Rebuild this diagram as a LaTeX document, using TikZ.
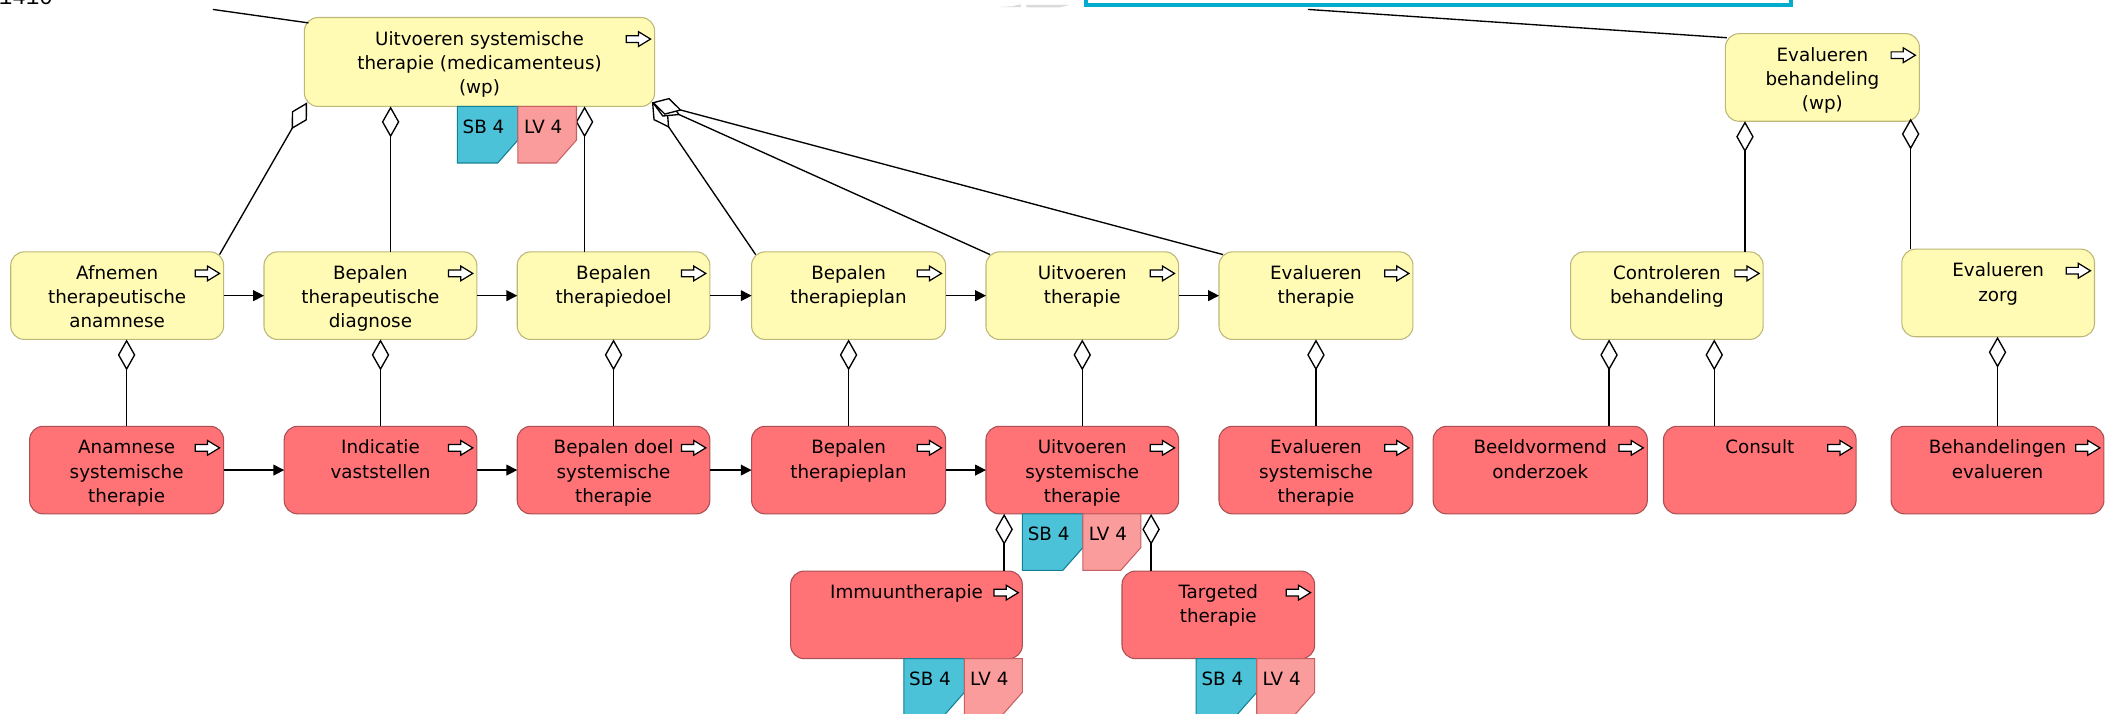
\documentclass[tikz,border=0pt]{standalone}
\usepackage{fontspec}
\setmainfont{DejaVu Sans}
\newfontfamily\numfont{Liberation Mono}
\usetikzlibrary{arrows.meta,calc}

\definecolor{yfill}{RGB}{255,251,180}
\definecolor{ybord}{RGB}{190,184,120}
\definecolor{rfill}{RGB}{255,115,118}
\definecolor{rbord}{RGB}{170,80,84}
\definecolor{sbfill}{RGB}{76,194,216}
\definecolor{sbbord}{RGB}{20,128,148}
\definecolor{lvfill}{RGB}{250,156,156}
\definecolor{lvbord}{RGB}{200,96,98}
\definecolor{selcyan}{RGB}{0,172,206}
\definecolor{ghost}{RGB}{218,218,218}

\newcommand\boxfont{\fontsize{13.6}{18}\selectfont}

\tikzset{
  box/.style={rounded corners=10pt, line width=0.8pt, inner sep=0pt, outer sep=0pt,
              anchor=north west, font=\boxfont},
  ybox/.style={box, draw=ybord, fill=yfill},
  rbox/.style={box, draw=rbord, fill=rfill},
  icon/.style={draw=black, fill=white, line width=0.9pt, line join=miter},
  tagtext/.style={anchor=base, inner sep=0pt, font=\boxfont},
  sbtag/.style={draw=sbbord, fill=sbfill, line width=0.8pt},
  lvtag/.style={draw=lvbord, fill=lvfill, line width=0.8pt},
  flow/.style={draw=black, line width=1pt, -{Triangle[length=8pt,width=8pt]}},
  aggr/.style={draw=black, line width=1pt, arrows={Diamond[length=23pt,width=13pt,fill=white]-}},
  plain/.style={draw=black, line width=1pt},
}

% activity box: style, name, left, top, width, height, text
\newcommand\actbox[7]{%
  \node[#1, minimum width=#5pt, minimum height=#6pt] (#2) at (#3,#4)
    {\parbox[c][#6pt][t]{#5pt}{\centering\rule{0pt}{20.5pt}#7\par}};
  \draw[icon] ([xshift=-21pt,yshift=-16pt]#2.north east) ++(0,2.5) -- ++(9,0) -- ++(0,3)
    -- ++(9,-5.5) -- ++(-9,-5.5) -- ++(0,3) -- ++(-9,0) -- cycle;
}

% tag with a cut corner: style, name, left, top, width, text
\newcommand\tagbox[6]{%
  \filldraw[#1] (#3,#4) -- ++(#5,0) -- ++(0,25) -- ++(-15,17) -- (#3,#4+42) -- cycle;
  \node[tagtext] (#2) at (#3+#5/2-3,#4+20) {#6};
}

\begin{document}
\begin{tikzpicture}[x=1pt,y=-1pt]
\useasboundingbox (0,0) rectangle (1568,530);
\clip (0,0) rectangle (1568,530);
\fill[white] (0,0) rectangle (1568,530);

% partly visible label in the corner
\node[anchor=base west, inner sep=0pt, font=\numfont\fontsize{16.7}{20}\selectfont] (cornerno) at (-1,3.7) {1410};

% top level processes
\actbox{ybox}{T0}{226}{13}{260}{66}{Uitvoeren systemische\\therapie (medicamenteus)\\(wp)}
\actbox{ybox}{E0}{1281}{25}{144}{65}{Evalueren\\behandeling\\(wp)}

% links to the parents above
\coordinate (up1) at (158,7);
\coordinate (up2) at (971,7);
\draw[plain] (up1) -- ([shift={(3pt,-4pt)}]T0.north west);
\draw[plain] (up2) -- ([shift={(1pt,-3pt)}]E0.north west);

% faint shapes and the selection frame at the top edge
\fill[ghost] (741,5.3) -- (752,4.6) -- (756,3.5) -- (758,3.5) -- (758,5.3) -- cycle;
\fill[ghost] (762,3.6) -- (794,3.6) -- (787,5.4) -- (762,5.4) -- cycle;
\filldraw[draw=selcyan, fill=white, line width=3pt] (806,-30) rectangle (1330,3.5);

% middle row
\actbox{ybox}{A1}{8}{187}{158}{65}{Afnemen\\therapeutische\\anamnese}
\actbox{ybox}{A2}{196}{187}{158}{65}{Bepalen\\therapeutische\\diagnose}
\actbox{ybox}{A3}{384}{187}{143}{65}{Bepalen\\therapiedoel}
\actbox{ybox}{A4}{558}{187}{144}{65}{Bepalen\\therapieplan}
\actbox{ybox}{A5}{732}{187}{143}{65}{Uitvoeren\\therapie}
\actbox{ybox}{A6}{905}{187}{144}{65}{Evalueren\\therapie}
\actbox{ybox}{C1}{1166}{187}{143}{65}{Controleren\\behandeling}
\actbox{ybox}{C2}{1412}{185}{143}{65}{Evalueren\\zorg}

% bottom row
\actbox{rbox}{B1}{22}{316.5}{144}{65}{Anamnese\\systemische\\therapie}
\actbox{rbox}{B2}{211}{316.5}{143}{65}{Indicatie\\vaststellen}
\actbox{rbox}{B3}{384}{316.5}{143}{65}{Bepalen doel\\systemische\\therapie}
\actbox{rbox}{B4}{558}{316.5}{144}{65}{Bepalen\\therapieplan}
\actbox{rbox}{B5}{732}{316.5}{143}{65}{Uitvoeren\\systemische\\therapie}
\actbox{rbox}{B6}{905}{316.5}{144}{65}{Evalueren\\systemische\\therapie}
\actbox{rbox}{D1}{1064}{316.5}{159}{65}{Beeldvormend\\onderzoek}
\actbox{rbox}{D2}{1235}{316.5}{143}{65}{Consult}
\actbox{rbox}{D3}{1404}{316.5}{158}{65}{Behandelingen\\evalueren}

% sub-activities of the therapy
\actbox{rbox}{I1}{587}{424}{172}{65}{Immuuntherapie}
\actbox{rbox}{I2}{833}{424}{143}{65}{Targeted\\therapie}

% sequence flow
\draw[flow] (A1.east) -- (A2.west);
\draw[flow] (A2.east) -- (A3.west);
\draw[flow] (A3.east) -- (A4.west);
\draw[flow] (A4.east) -- (A5.west);
\draw[flow] (A5.east) -- (A6.west);
\draw[flow] (B1.east) -- (B2.west);
\draw[flow] (B2.east) -- (B3.west);
\draw[flow] (B3.east) -- (B4.west);
\draw[flow] (B4.east) -- (B5.west);

% composition links
\coordinate (xa2) at (290,0);
\coordinate (xa3) at (434,0);
\coordinate (xc1) at (1295.5,0);
\coordinate (xc2) at (1418.5,0);
\coordinate (xd1) at (1194.6,0);
\coordinate (xd2) at (1272.7,0);
\coordinate (xi1) at (745.5,0);
\coordinate (xi2) at (854.6,0);

\draw[aggr] ([shift={(2pt,3pt)}]T0.south west) -- ([shift={(-3pt,-2pt)}]A1.north east);
\draw[aggr] (T0.south -| xa2) -- (A2.north -| xa2);
\draw[aggr] (T0.south -| xa3) -- (A3.north -| xa3);
\draw[aggr] ([shift={(-2pt,3pt)}]T0.south east) -- ([shift={(3pt,-2pt)}]A4.north west);
\draw[aggr] ([shift={(-2pt,3pt)}]T0.south east) -- ([shift={(3pt,-2pt)}]A5.north west);
\draw[aggr] ([shift={(-2pt,3pt)}]T0.south east) -- ([shift={(3pt,-2pt)}]A6.north west);

\draw[aggr] (A1.south -| B1.north) -- (B1.north);
\draw[aggr] (A2.south -| B2.north) -- (B2.north);
\draw[aggr] (A3.south -| B3.north) -- (B3.north);
\draw[aggr] (A4.south -| B4.north) -- (B4.north);
\draw[aggr] (A5.south -| B5.north) -- (B5.north);
\draw[aggr] (A6.south -| B6.north) -- (B6.north);

\draw[aggr] (E0.south -| xc1) -- (C1.north -| xc1);
\draw[aggr] ([yshift=2pt]E0.south -| xc2) -- (C2.north -| xc2);
\draw[aggr] (C1.south -| xd1) -- (D1.north -| xd1);
\draw[aggr] (C1.south -| xd2) -- (D2.north -| xd2);
\draw[aggr] (C2.south -| D3.north) -- (D3.north);

\draw[aggr] (B5.south -| xi1) -- (I1.north -| xi1);
\draw[aggr] (B5.south -| xi2) -- (I2.north -| xi2);

% status tags
\tagbox{sbtag}{T0sb}{339.5}{79}{45}{SB 4}
\tagbox{lvtag}{T0lv}{384.5}{79}{43.5}{LV 4}
\tagbox{sbtag}{B5sb}{759}{381.5}{45}{SB 4}
\tagbox{lvtag}{B5lv}{804}{381.5}{43}{LV 4}
\tagbox{sbtag}{I1sb}{671}{489}{45}{SB 4}
\tagbox{lvtag}{I1lv}{716}{489}{43}{LV 4}
\tagbox{sbtag}{I2sb}{888}{489}{45}{SB 4}
\tagbox{lvtag}{I2lv}{933}{489}{43}{LV 4}
\end{tikzpicture}
\end{document}
